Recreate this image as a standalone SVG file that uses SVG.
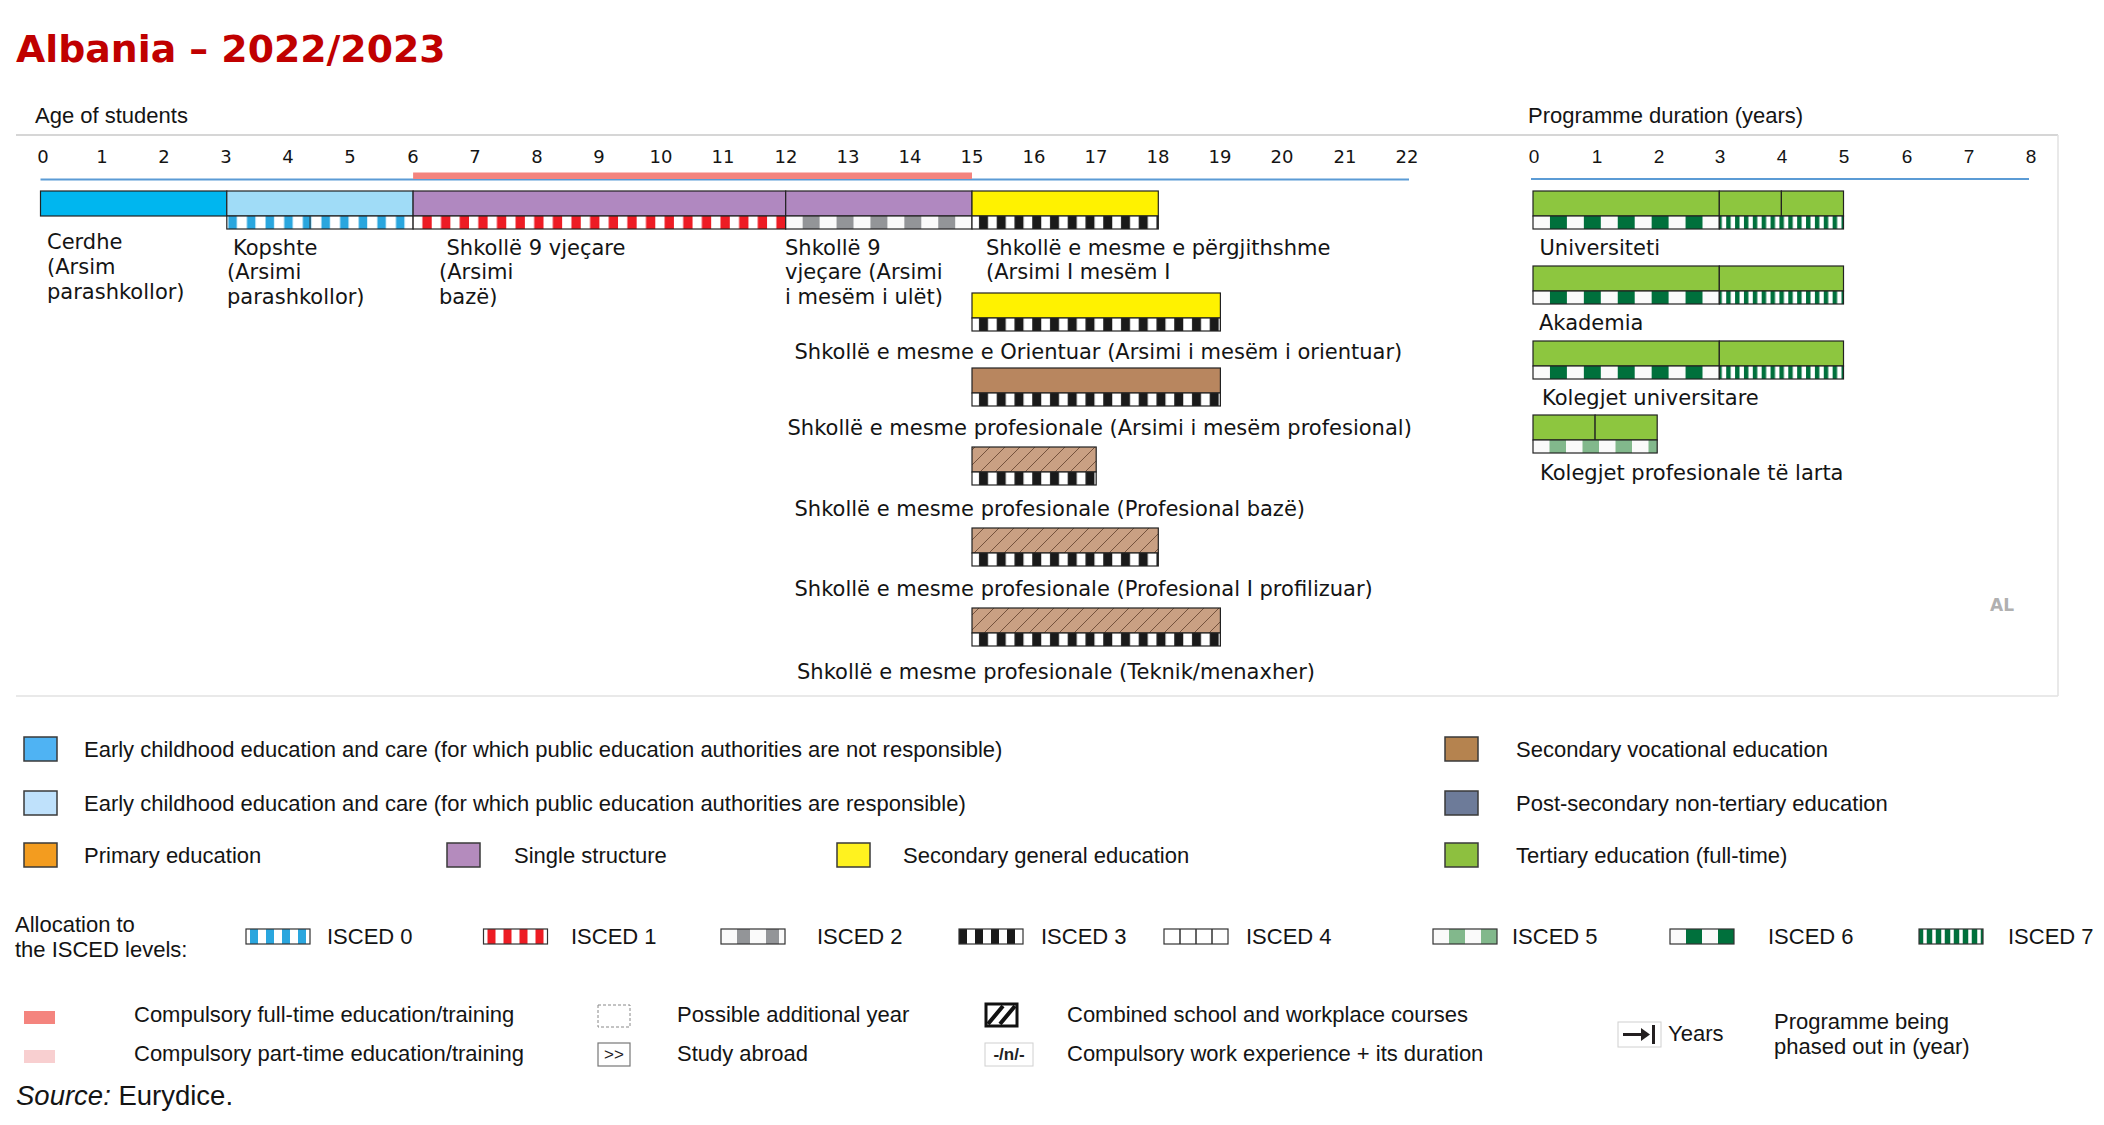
<svg xmlns="http://www.w3.org/2000/svg" width="2104" height="1125" viewBox="0 0 2104 1125">
<style>
.t{font-family:"DejaVu Sans",Verdana,sans-serif;font-size:21px;fill:#141414}
.ax{font-family:"DejaVu Sans",Verdana,sans-serif;font-size:18px;fill:#141414;text-anchor:middle}
.axr{font-family:"Liberation Sans",Arial,sans-serif;font-size:19px;fill:#141414;text-anchor:middle}
.lg{font-family:"Liberation Sans",Arial,sans-serif;font-size:22px;fill:#141414}
.bar{stroke:#222;stroke-width:1.2}
.sw{stroke:#3a3a3a;stroke-width:1.5}
.is{stroke:#333;stroke-width:1.2;fill:none}
</style>
<defs>
<pattern id="p0" patternUnits="userSpaceOnUse" x="226.8" y="0" width="18.63" height="1125"><rect width="18.63" height="1125" fill="#fff"/><rect x="1.5" width="8.5" height="1125" fill="#2aa6de"/></pattern>
<pattern id="p1" patternUnits="userSpaceOnUse" x="413.1" y="0" width="18.63" height="1125"><rect width="18.63" height="1125" fill="#fff"/><rect x="9.3" width="9.33" height="1125" fill="#ed1c24"/></pattern>
<pattern id="p2" patternUnits="userSpaceOnUse" x="785.7" y="0" width="33.9" height="1125"><rect width="33.9" height="1125" fill="#fafafa"/><rect x="16.95" width="16.95" height="1125" fill="#939598"/></pattern>
<pattern id="p3" patternUnits="userSpaceOnUse" x="972" y="0" width="17.75" height="1125"><rect width="17.75" height="1125" fill="#fff"/><rect x="7" width="9" height="1125" fill="#1a1a1a"/></pattern>
<pattern id="p6" patternUnits="userSpaceOnUse" x="1533" y="0" width="33.9" height="1125"><rect width="33.9" height="1125" fill="#fafafa"/><rect x="16.95" width="16.95" height="1125" fill="#00703c"/></pattern>
<pattern id="p7" patternUnits="userSpaceOnUse" x="1719.3" y="0" width="8.87" height="1125"><rect width="8.87" height="1125" fill="#00703c"/><rect x="2.5" width="4.4" height="1125" fill="#fff"/></pattern>
<pattern id="p5" patternUnits="userSpaceOnUse" x="1533" y="0" width="33" height="1125"><rect width="33" height="1125" fill="#fafafa"/><rect x="16.5" width="16.5" height="1125" fill="#82b88c"/></pattern>
<pattern id="hatch" patternUnits="userSpaceOnUse" x="972" y="0" width="15" height="15"><rect width="15" height="15" fill="#c9a083"/><path d="M-3.75,3.75 L3.75,-3.75 M0,15 L15,0 M11.25,18.75 L18.75,11.25" stroke="#6b4a36" stroke-width="0.9"/></pattern>
</defs>

<text x="16" y="62" style="font-family:'DejaVu Sans',Verdana,sans-serif;font-weight:bold;font-size:37.8px;fill:#c00000">Albania – 2022/2023</text>

<g id="frame">
<line x1="16" y1="135" x2="2058" y2="135" stroke="#c8c8c8" stroke-width="1.5"/>
<line x1="2058" y1="135" x2="2058" y2="696" stroke="#e2e2e2" stroke-width="1.5"/>
<line x1="16" y1="696" x2="2058" y2="696" stroke="#e2e2e2" stroke-width="1.5"/>
<text class="lg" x="35" y="123">Age of students</text>
<text class="lg" x="1528" y="123">Programme duration (years)</text>
<text x="2002" y="611" text-anchor="middle" style="font-family:'DejaVu Sans',sans-serif;font-weight:bold;font-size:17px;fill:#b0b0b0">AL</text>
</g>

<g id="connectors">
<line x1="40.5" y1="179.5" x2="1409" y2="179.5" stroke="#5b9bd5" stroke-width="2"/>
<rect x="413.1" y="172.5" width="558.9" height="6.5" fill="#f4847e"/>
<line x1="1531" y1="179" x2="2029" y2="179" stroke="#5b9bd5" stroke-width="2"/>
</g>

<g id="age-axis">
<text class="ax" x="43" y="163">0</text><text class="ax" x="102" y="163">1</text><text class="ax" x="164" y="163">2</text><text class="ax" x="226" y="163">3</text><text class="ax" x="288" y="163">4</text><text class="ax" x="350" y="163">5</text><text class="ax" x="413" y="163">6</text><text class="ax" x="475" y="163">7</text><text class="ax" x="537" y="163">8</text><text class="ax" x="599" y="163">9</text><text class="ax" x="661" y="163">10</text><text class="ax" x="723" y="163">11</text><text class="ax" x="786" y="163">12</text><text class="ax" x="848" y="163">13</text><text class="ax" x="910" y="163">14</text><text class="ax" x="972" y="163">15</text><text class="ax" x="1034" y="163">16</text><text class="ax" x="1096" y="163">17</text><text class="ax" x="1158" y="163">18</text><text class="ax" x="1220" y="163">19</text><text class="ax" x="1282" y="163">20</text><text class="ax" x="1345" y="163">21</text><text class="ax" x="1407" y="163">22</text>
</g>
<g id="duration-axis">
<text class="axr" x="1534" y="163">0</text><text class="axr" x="1597" y="163">1</text><text class="axr" x="1659" y="163">2</text><text class="axr" x="1720" y="163">3</text><text class="axr" x="1782" y="163">4</text><text class="axr" x="1844" y="163">5</text><text class="axr" x="1907" y="163">6</text><text class="axr" x="1969" y="163">7</text><text class="axr" x="2031" y="163">8</text>
</g>

<g id="cerdhe">
<rect class="bar" x="40.5" y="191" width="186.3" height="25" fill="#00b6ef"/>
<text class="t" x="47" y="249">Cerdhe</text><text class="t" x="47" y="274">(Arsim</text><text class="t" x="47" y="298.5">parashkollor)</text>
</g>
<g id="kopshte">
<rect class="bar" x="226.8" y="191" width="186.3" height="25" fill="#a0dcf7"/>
<rect class="bar" x="226.8" y="216" width="186.3" height="13" fill="url(#p0)"/>
<line x1="310" y1="216" x2="310" y2="229" stroke="#333" stroke-width="1"/>
<text class="t" x="233" y="254.5">Kopshte</text><text class="t" x="227" y="279">(Arsimi</text><text class="t" x="227" y="304">parashkollor)</text>
</g>
<g id="shkolle9-baze">
<rect class="bar" x="413.1" y="191" width="372.6" height="25" fill="#b088c0"/>
<rect class="bar" x="413.1" y="216" width="372.6" height="13" fill="url(#p1)"/>
<text class="t" x="446.5" y="254.5">Shkollë 9 vjeçare</text><text class="t" x="439" y="279">(Arsimi</text><text class="t" x="439" y="304">bazë)</text>
</g>
<g id="shkolle9-ulet">
<rect class="bar" x="785.7" y="191" width="186.3" height="25" fill="#b088c0"/>
<rect class="bar" x="785.7" y="216" width="186.3" height="13" fill="url(#p2)"/>
<text class="t" x="785" y="254.5">Shkollë 9</text><text class="t" x="785" y="279">vjeçare (Arsimi</text><text class="t" x="785" y="304">i mesëm i ulët)</text>
</g>
<g id="pergjithshme">
<rect class="bar" x="972" y="191" width="186.3" height="25" fill="#fff200"/>
<rect class="bar" x="972" y="216" width="186.3" height="13" fill="url(#p3)"/>
<text class="t" x="986" y="254.5">Shkollë e mesme e përgjithshme</text><text class="t" x="986" y="279">(Arsimi I mesëm I</text>
</g>
<g id="orientuar">
<rect class="bar" x="972" y="293" width="248.4" height="25" fill="#fff200"/>
<rect class="bar" x="972" y="318" width="248.4" height="13" fill="url(#p3)"/>
<text class="t" x="794.5" y="358.5">Shkollë e mesme e Orientuar (Arsimi i mesëm i orientuar)</text>
</g>
<g id="profesional">
<rect class="bar" x="972" y="368" width="248.4" height="25" fill="#b8865f"/>
<rect class="bar" x="972" y="393" width="248.4" height="13" fill="url(#p3)"/>
<text class="t" x="787.5" y="434.5">Shkollë e mesme profesionale (Arsimi i mesëm profesional)</text>
</g>
<g id="profesional-baze">
<rect class="bar" x="972" y="447" width="124.2" height="25" fill="url(#hatch)"/>
<rect class="bar" x="972" y="472" width="124.2" height="13" fill="url(#p3)"/>
<text class="t" x="794.5" y="516">Shkollë e mesme profesionale (Profesional bazë)</text>
</g>
<g id="profilizuar">
<rect class="bar" x="972" y="528" width="186.3" height="25" fill="url(#hatch)"/>
<rect class="bar" x="972" y="553" width="186.3" height="13" fill="url(#p3)"/>
<text class="t" x="794.5" y="596">Shkollë e mesme profesionale (Profesional I profilizuar)</text>
</g>
<g id="teknik">
<rect class="bar" x="972" y="608" width="248.4" height="25" fill="url(#hatch)"/>
<rect class="bar" x="972" y="633" width="248.4" height="13" fill="url(#p3)"/>
<text class="t" x="797" y="678.5">Shkollë e mesme profesionale (Teknik/menaxher)</text>
</g>

<g id="universiteti">
<rect class="bar" x="1533" y="191" width="186.3" height="25" fill="#8dc63f"/>
<rect class="bar" x="1719.3" y="191" width="62.1" height="25" fill="#8dc63f"/>
<rect class="bar" x="1781.4" y="191" width="62.1" height="25" fill="#8dc63f"/>
<rect class="bar" x="1533" y="216" width="186.3" height="13" fill="url(#p6)"/>
<rect class="bar" x="1719.3" y="216" width="124.2" height="13" fill="url(#p7)"/>
<text class="t" x="1539.5" y="255">Universiteti</text>
</g>
<g id="akademia">
<rect class="bar" x="1533" y="266" width="186.3" height="25" fill="#8dc63f"/>
<rect class="bar" x="1719.3" y="266" width="124.2" height="25" fill="#8dc63f"/>
<rect class="bar" x="1533" y="291" width="186.3" height="13" fill="url(#p6)"/>
<rect class="bar" x="1719.3" y="291" width="124.2" height="13" fill="url(#p7)"/>
<text class="t" x="1539" y="330">Akademia</text>
</g>
<g id="kolegjet-universitare">
<rect class="bar" x="1533" y="341" width="186.3" height="25" fill="#8dc63f"/>
<rect class="bar" x="1719.3" y="341" width="124.2" height="25" fill="#8dc63f"/>
<rect class="bar" x="1533" y="366" width="186.3" height="13" fill="url(#p6)"/>
<rect class="bar" x="1719.3" y="366" width="124.2" height="13" fill="url(#p7)"/>
<text class="t" x="1542" y="405">Kolegjet universitare</text>
</g>
<g id="kolegjet-profesionale">
<rect class="bar" x="1533" y="415" width="62.1" height="25" fill="#8dc63f"/>
<rect class="bar" x="1595.1" y="415" width="62.1" height="25" fill="#8dc63f"/>
<rect class="bar" x="1533" y="440" width="124.2" height="13" fill="url(#p5)"/>
<text class="t" x="1540" y="479.5">Kolegjet profesionale të larta</text>
</g>

<g id="legend-colours">
<rect class="sw" x="24" y="737" width="33" height="24" fill="#4fb3f3"/>
<text class="lg" x="84" y="757">Early childhood education and care (for which public education authorities are not responsible)</text>
<rect class="sw" x="24" y="791" width="33" height="24" fill="#bfe1fb"/>
<text class="lg" x="84" y="811">Early childhood education and care (for which public education authorities are responsible)</text>
<rect class="sw" x="24" y="843" width="33" height="24" fill="#f39c1f"/>
<text class="lg" x="84" y="863">Primary education</text>
<rect class="sw" x="447" y="843" width="33" height="24" fill="#b48bbd"/>
<text class="lg" x="514" y="863">Single structure</text>
<rect class="sw" x="837" y="843" width="33" height="24" fill="#fff21f"/>
<text class="lg" x="903" y="863">Secondary general education</text>
<rect class="sw" x="1445" y="737" width="33" height="24" fill="#b5834f"/>
<text class="lg" x="1516" y="757">Secondary vocational education</text>
<rect class="sw" x="1445" y="791" width="33" height="24" fill="#6d7b99"/>
<text class="lg" x="1516" y="811">Post-secondary non-tertiary education</text>
<rect class="sw" x="1445" y="843" width="33" height="24" fill="#8dc03f"/>
<text class="lg" x="1516" y="863">Tertiary education (full-time)</text>
</g>

<g id="legend-isced">
<text class="lg" x="15" y="932">Allocation to</text>
<text class="lg" x="15" y="957">the ISCED levels:</text>
<rect x="246" y="929" width="64" height="15" fill="#fff"/>
<rect x="250" y="929" width="8" height="15" fill="#2aa6de"/><rect x="266" y="929" width="8" height="15" fill="#2aa6de"/><rect x="282" y="929" width="8" height="15" fill="#2aa6de"/><rect x="298" y="929" width="8" height="15" fill="#2aa6de"/>
<rect class="is" x="246" y="929" width="64" height="15"/>
<text class="lg" x="327" y="944">ISCED 0</text>
<rect x="483.5" y="929" width="64" height="15" fill="#fff"/>
<rect x="487.5" y="929" width="8" height="15" fill="#ed1c24"/><rect x="503.5" y="929" width="8" height="15" fill="#ed1c24"/><rect x="519.5" y="929" width="8" height="15" fill="#ed1c24"/><rect x="535.5" y="929" width="8" height="15" fill="#ed1c24"/>
<rect class="is" x="483.5" y="929" width="64" height="15"/>
<text class="lg" x="571" y="944">ISCED 1</text>
<rect x="721" y="929" width="64" height="15" fill="#fafafa"/>
<rect x="737" y="929" width="13" height="15" fill="#939598"/><rect x="766" y="929" width="13" height="15" fill="#939598"/>
<rect class="is" x="721" y="929" width="64" height="15"/>
<text class="lg" x="817" y="944">ISCED 2</text>
<rect x="959" y="929" width="64" height="15" fill="#fff"/>
<rect x="959" y="929" width="8" height="15" fill="#1a1a1a"/><rect x="975" y="929" width="8" height="15" fill="#1a1a1a"/><rect x="991" y="929" width="8" height="15" fill="#1a1a1a"/><rect x="1007" y="929" width="8" height="15" fill="#1a1a1a"/>
<rect class="is" x="959" y="929" width="64" height="15"/>
<text class="lg" x="1041" y="944">ISCED 3</text>
<rect x="1164" y="929" width="64" height="15" fill="#fff"/>
<path d="M1180,929V944M1196,929V944M1212,929V944" stroke="#333" stroke-width="1.5"/>
<rect class="is" x="1164" y="929" width="64" height="15"/>
<text class="lg" x="1246" y="944">ISCED 4</text>
<rect x="1433" y="929" width="64" height="15" fill="#fafafa"/>
<rect x="1449" y="929" width="16" height="15" fill="#82b88c"/><rect x="1481" y="929" width="16" height="15" fill="#82b88c"/>
<rect class="is" x="1433" y="929" width="64" height="15"/>
<text class="lg" x="1512" y="944">ISCED 5</text>
<rect x="1670" y="929" width="64" height="15" fill="#fafafa"/>
<rect x="1686" y="929" width="16" height="15" fill="#00703c"/><rect x="1718" y="929" width="16" height="15" fill="#00703c"/>
<rect class="is" x="1670" y="929" width="64" height="15"/>
<text class="lg" x="1768" y="944">ISCED 6</text>
<rect x="1919" y="929" width="64" height="15" fill="#00703c"/>
<path d="M1925,929V944M1934,929V944M1943,929V944M1952,929V944M1961,929V944M1970,929V944M1979,929V944" stroke="#fff" stroke-width="3.5"/>
<rect class="is" x="1919" y="929" width="64" height="15"/>
<text class="lg" x="2008" y="944">ISCED 7</text>
</g>

<g id="legend-symbols">
<rect x="24" y="1011" width="31" height="13" fill="#f4847e"/>
<text class="lg" x="134" y="1022">Compulsory full-time education/training</text>
<rect x="24" y="1050" width="31" height="13" fill="#f8cfd0"/>
<text class="lg" x="134" y="1061">Compulsory part-time education/training</text>
<rect x="598" y="1005" width="32" height="22" fill="#fff" stroke="#888" stroke-width="1" stroke-dasharray="3,2"/>
<text class="lg" x="677" y="1022">Possible additional year</text>
<rect x="598" y="1043" width="32" height="23" fill="#fff" stroke="#777" stroke-width="1.2"/>
<text x="614" y="1060" text-anchor="middle" style="font-family:'Liberation Sans',Arial,sans-serif;font-size:17px;fill:#222">&gt;&gt;</text>
<text class="lg" x="677" y="1061">Study abroad</text>
<rect x="986" y="1004" width="31" height="22" fill="#fff" stroke="#111" stroke-width="3"/>
<path d="M988,1024 L1003,1006 M1000,1024 L1015,1006" stroke="#111" stroke-width="4"/>
<text class="lg" x="1067" y="1022">Combined school and workplace courses</text>
<rect x="985" y="1043" width="48" height="23" fill="#fff" stroke="#d0d0d0" stroke-width="1"/>
<text x="1009" y="1060" text-anchor="middle" style="font-family:'Liberation Sans',Arial,sans-serif;font-weight:bold;font-size:17px;fill:#222">-/n/-</text>
<text class="lg" x="1067" y="1061">Compulsory work experience + its duration</text>
<rect x="1618" y="1022" width="43" height="25" fill="#fff" stroke="#d0d0d0" stroke-width="1"/>
<path d="M1623,1034.5 H1643" stroke="#231f20" stroke-width="3"/>
<polygon points="1641,1028 1650,1034.5 1641,1041" fill="#231f20"/>
<rect x="1652" y="1025" width="3" height="19" fill="#231f20"/>
<text class="lg" x="1668" y="1041">Years</text>
<text class="lg" x="1774" y="1029">Programme being</text>
<text class="lg" x="1774" y="1054">phased out in (year)</text>
<text x="16" y="1105" style="font-family:'Liberation Sans',Arial,sans-serif;font-size:27.5px;fill:#141414"><tspan font-style="italic">Source:</tspan> Eurydice.</text>
</g>
</svg>
